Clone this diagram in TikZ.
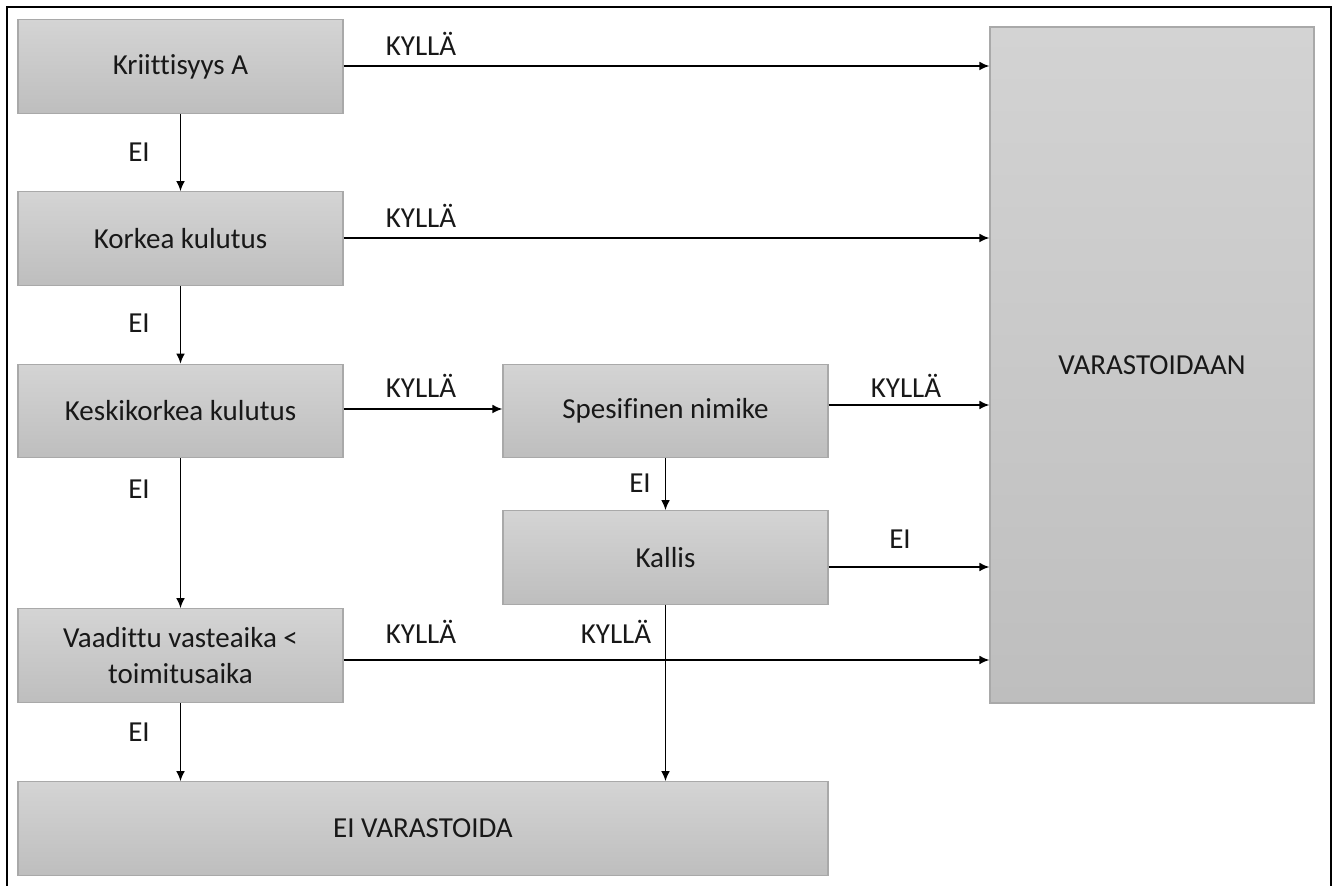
\documentclass[tikz,border=0pt]{standalone}
\usepackage{fontspec}
\setmainfont{Carlito}[Ligatures={NoCommon}]
\usetikzlibrary{arrows.meta}
\definecolor{gtop}{HTML}{D4D4D4}
\definecolor{gbot}{HTML}{BEBEBE}
\definecolor{boxline}{HTML}{A9A9A9}
\definecolor{ink}{HTML}{181818}
\tikzset{
  x=0.5pt, y=-0.5pt,
  txt/.style={font=\fontsize{14.5}{17.6}\selectfont, text=ink},
  box/.style={txt, draw=boxline, line width=0.6pt, top color=gtop, bottom color=gbot,
    inner sep=0pt, minimum width=162.5pt, minimum height=46.75pt, align=center},
  lbl/.style={txt, inner sep=0pt, anchor=base},
  arr/.style={line width=0.8pt, -{Latex[length=5pt,width=4.4pt]}},
}
\begin{document}
\begin{tikzpicture}
\useasboundingbox (0,0) rectangle (1339,886);
\clip (0,0) rectangle (1339,886);
% outer frame, open at the lower page edge
\draw[line width=1.1pt] (7,7) rectangle (1331,920);

% decision boxes
\node[box] (k1) at (180.5,66.5) {Kriittisyys A};
\node[box] (k2) at (180.5,238.5) {Korkea kulutus};
\node[box] (k3) at (180.5,411) {Keskikorkea kulutus};
\node[box] (k4) at (180.5,655.5) {Vaadittu vasteaika <\\toimitusaika};
\node[box] (spec) at (665.5,411) {Spesifinen nimike};
\node[box] (kallis) at (665.5,557.5) {Kallis};
% outcomes
\node[box, minimum width=405pt] (eiv) at (423,828.5) {EI VARASTOIDA};
\node[box, top color=gtop!96!gbot, minimum width=162pt, minimum height=338pt] (var) at (1152,365) {VARASTOIDAAN};

% yes-branches to the right
\draw[arr] (k1.east |- 0,66) -- (var.west |- 0,66);
\draw[arr] (k2.east |- 0,238) -- (var.west |- 0,238);
\draw[arr] (k3.east |- 0,409) -- (spec.west |- 0,409);
\draw[arr] (spec.east |- 0,405) -- (var.west |- 0,405);
\draw[arr] (kallis.east |- 0,567) -- (var.west |- 0,567);
\draw[arr] (k4.east |- 0,660) -- (var.west |- 0,660);

% no-branches downward
\draw[arr] (k1.south) -- (k2.north);
\draw[arr] (k2.south) -- (k3.north);
\draw[arr] (k3.south) -- (k4.north);
\draw[arr] (k4.south) -- (k4.south |- eiv.north);
\draw[arr] (spec.south) -- (kallis.north);
\draw[arr] (kallis.south) -- (kallis.south |- eiv.north);

% branch labels
\node[lbl] (y1) at (421,56) {KYLLÄ};
\node[lbl] (y2) at (421,228) {KYLLÄ};
\node[lbl] (y3) at (421,398) {KYLLÄ};
\node[lbl] (y4) at (906,398) {KYLLÄ};
\node[lbl] (y5) at (421,644) {KYLLÄ};
\node[lbl] (y6) at (616,644) {KYLLÄ};
\node[lbl] (n1) at (139,162) {EI};
\node[lbl] (n2) at (139,333) {EI};
\node[lbl] (n3) at (139,499) {EI};
\node[lbl] (n4) at (139,742) {EI};
\node[lbl] (n5) at (640,493) {EI};
\node[lbl] (n6) at (900,549) {EI};
\end{tikzpicture}
\end{document}
